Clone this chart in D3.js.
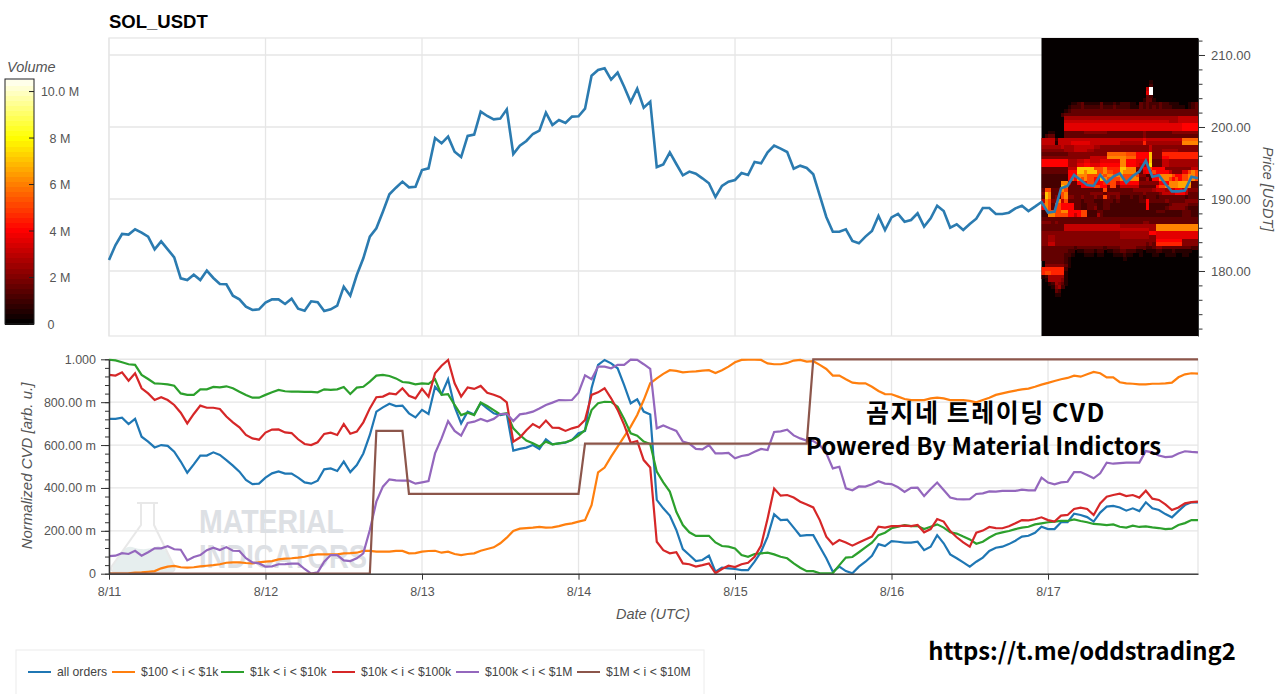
<!DOCTYPE html>
<html>
<head>
<meta charset="utf-8">
<script src="https://cdn.jsdelivr.net/npm/d3@7"></script>
<style>
  html, body { margin: 0; padding: 0; background: #fff; overflow: hidden; }
  text { font-family: "Liberation Sans", Arial, sans-serif; }
</style>
</head>
<body>
<div id="graph"></div>
<script>
// hourly values from 8/11 00:00 to 8/17 23:00, one line per day
const price = [
  181.53,183.61,185.14,185.05,185.79,185.32,184.77,183.01,184.12,183.01,181.90,178.98,178.75,179.49,178.75,180.05,179.03,178.19,178.15,176.57,176.06,175.05,174.58,174.68,
  175.60,176.06,176.06,175.42,176.16,174.77,174.49,175.79,175.65,174.44,174.68,175.19,177.82,176.57,179.44,181.76,184.77,185.93,188.24,190.65,191.57,192.41,191.62,191.71,
  194.03,194.26,198.47,197.73,198.66,196.57,195.83,198.75,198.94,202.13,201.53,201.06,201.16,202.45,196.25,197.41,198.06,199.03,199.49,201.99,200.28,200.97,200.56,201.44,
  201.48,202.55,207.13,207.92,208.15,206.57,207.55,205.60,203.47,205.32,202.69,203.52,194.44,194.81,196.48,194.86,193.29,193.80,193.52,192.87,192.18,190.28,191.81,192.41,
  192.64,193.61,193.33,195.14,194.95,196.48,197.41,196.99,196.53,194.21,194.63,194.31,193.43,190.46,187.50,185.46,185.46,185.79,184.17,183.84,184.77,185.56,187.64,185.69,
  187.45,187.92,186.85,187.08,188.01,186.16,187.31,189.07,188.33,186.02,186.48,185.69,186.53,187.27,188.75,188.75,187.92,187.92,188.10,188.70,189.07,188.33,188.94,189.58,
  188.10,188.24,191.48,191.81,193.33,192.64,191.94,191.81,193.33,192.27,193.10,193.56,192.27,193.19,193.80,195.32,193.10,193.29,192.08,191.06,191.06,191.16,193.10,192.87
];

// normalized CVD in milli units
const cvdAll = [
  722,722,728,698,722,639,616,589,600,596,569,523,471,510,551,551,566,554,530,504,476,437,418,420,
  448,468,477,467,467,448,426,420,434,487,491,479,523,474,507,561,647,756,776,793,782,784,748,729,
  764,745,872,837,907,779,701,756,743,795,771,748,740,745,574,582,588,600,582,627,603,608,611,624,
  655,666,865,974,997,981,958,880,795,813,756,743,344,305,271,204,115,87,59,64,84,9,28,25,
  22,17,17,56,103,173,277,250,252,215,177,180,180,126,72,9,33,12,2,33,56,84,138,129,
  152,149,145,145,149,110,126,180,142,90,72,53,33,56,75,106,121,126,138,154,173,177,191,219,
  208,208,240,240,280,274,264,243,285,313,316,309,294,305,292,333,305,297,278,263,292,320,333,333
];
const cvd100 = [
  0,0,0,2,5,6,9,12,25,33,36,30,28,30,34,37,40,44,51,53,53,50,48,53,
  56,59,67,70,72,75,79,87,90,90,90,90,95,96,98,106,106,103,103,103,106,106,95,96,
  103,106,107,98,103,92,87,92,95,107,115,123,142,168,199,210,213,215,218,215,216,222,230,235,
  243,250,320,473,495,546,593,639,686,740,810,888,911,932,949,946,939,942,944,947,949,936,949,966,
  986,997,998,998,997,981,977,977,983,994,997,989,991,974,955,924,924,907,891,888,888,872,852,838,
  837,826,815,810,810,810,818,821,818,810,810,810,806,799,810,821,834,841,848,854,860,863,872,882,
  890,899,907,913,924,919,930,941,935,916,916,893,888,886,883,883,886,886,888,891,916,930,935,933
];
const cvd1k = [
  998,995,986,977,974,927,908,888,886,883,877,841,834,834,860,860,871,869,874,865,849,834,821,821,
  834,846,857,851,849,849,848,848,846,860,857,860,871,838,868,872,896,924,927,922,911,894,891,883,
  888,885,907,834,837,787,740,751,740,798,782,763,743,748,678,647,621,608,593,616,603,608,613,624,
  644,670,763,795,802,801,779,722,655,644,616,605,476,426,383,289,227,193,176,176,177,146,129,126,
  118,87,79,92,95,98,90,79,72,48,28,12,12,2,2,3,40,75,78,100,123,145,180,191,
  212,219,227,222,222,208,219,230,215,193,187,173,160,140,149,169,185,193,199,208,215,219,230,235,
  240,243,246,246,253,246,240,232,230,227,230,219,215,224,218,221,216,213,208,210,227,236,250,250
];
const cvd10k = [
  927,924,939,900,935,865,841,810,823,810,787,751,701,745,784,774,774,768,733,706,683,647,631,625,
  658,672,673,659,656,627,605,600,613,652,658,647,698,653,663,706,771,823,826,841,837,865,830,818,
  862,826,935,970,997,888,826,869,862,876,844,835,823,799,616,635,669,698,681,714,681,680,666,678,
  686,717,834,846,865,818,764,694,611,619,530,495,149,110,95,100,48,44,33,40,48,2,22,37,
  31,44,51,79,131,258,397,364,367,355,336,323,309,250,173,137,157,146,131,146,160,173,219,215,
  222,222,224,222,227,193,208,255,243,199,170,146,126,191,201,218,213,212,221,235,250,249,254,263,
  250,243,271,274,302,308,302,274,328,359,367,373,362,367,355,387,350,344,323,297,309,328,334,336
];
const cvd100k = [
  82,84,96,92,107,84,100,118,118,128,114,112,62,78,87,110,121,110,124,107,106,72,53,48,
  33,34,44,45,47,47,22,0,6,56,87,87,62,59,72,95,204,336,406,440,435,434,434,420,
  426,432,561,631,712,666,644,703,709,722,711,722,745,746,712,743,748,756,771,787,798,810,809,810,
  844,925,907,966,966,958,974,974,998,997,977,955,678,691,678,666,616,607,582,580,600,561,561,563,
  538,549,554,569,582,577,661,664,672,645,631,621,619,600,561,491,499,398,389,407,406,417,431,420,
  418,403,381,400,401,362,395,425,390,355,348,347,348,372,375,384,383,386,386,386,392,389,389,448,
  425,417,426,429,474,474,460,445,468,518,513,516,518,518,518,572,566,551,544,546,561,571,568,566
];
const cvd1m = [
  0,0,0,0,0,0,0,0,0,0,0,0,0,0,0,0,0,0,0,0,0,0,0,0,
  0,0,0,0,0,0,0,0,0,0,0,0,0,0,0,0,0,666,666,666,666,666,372,372,
  372,372,372,372,372,372,372,372,372,372,372,372,372,372,372,372,372,372,372,372,372,372,372,372,
  372,607,607,607,607,607,607,607,607,607,607,607,607,607,607,607,607,607,607,607,607,607,607,607,
  607,607,607,607,607,607,607,607,607,607,607,607,1000,1000,1000,1000,1000,1000,1000,1000,1000,1000,1000,1000,
  1000,1000,1000,1000,1000,1000,1000,1000,1000,1000,1000,1000,1000,1000,1000,1000,1000,1000,1000,1000,1000,1000,1000,1000,
  1000,1000,1000,1000,1000,1000,1000,1000,1000,1000,1000,1000,1000,1000,1000,1000,1000,1000,1000,1000,1000,1000,1000,1000
];

const seriesNames = ["all orders", "$100 < i < $1k", "$1k < i < $10k", "$10k < i < $100k", "$100k < i < $1M", "$1M < i < $10M"];
const seriesColors = ["#1f77b4", "#ff7f0e", "#2ca02c", "#d62728", "#9467bd", "#8c564b"];
const seriesValues = [cvdAll, cvd100, cvd1k, cvd10k, cvd100k, cvd1m];

const dayLabels = ["8/11", "8/12", "8/13", "8/14", "8/15", "8/16", "8/17"];
const priceTicks = [180, 190, 200, 210];
const cvdTicks = [0, 200, 400, 600, 800, 1000];
const cvdTickLabels = ["0", "200.00 m", "400.00 m", "600.00 m", "800.00 m", "1.000"];
const volumeTicks = [0, 2, 4, 6, 8, 10];
const volumeTickLabels = ["0", "2 M", "4 M", "6 M", "8 M", "10.0 M"];

// volume heatmap: one string per 0.50 USD price bin from 206.50 down, one char per 30 min
// from hour 143 on. Each char is base 36, in steps of 0.5 M
const heatStartHour = 143;
const heatTopPrice = 206.5;
const heatRows = [
  "000000000000000000000000"+"000000000100000000000000",
  "000000000000000000000000"+"000000000200000000000000",
  "000000000000000000000000"+"000000006l00000000000000",
  "000000000000000000000000"+"000000007l00000000000000",
  "000000000000000000000000"+"000000003200000000000000",
  "000000000000000000000000"+"000000013310000000000000",
  "000000000112311111311121"+"222110323222322111000123",
  "000000001222322222322232"+"222111323232322211110123",
  "000000012333333333333333"+"333333333333333333333333",
  "000000233333333333333333"+"333333333333333333333333",
  "000000055555555555555555"+"555555555555555555666666",
  "000000066666666666666666"+"666666666666666555666666",
  "000000077777777777777777"+"777777777777777777788888",
  "000000077777777777777777"+"777777777777777777788888",
  "001100033333344444443333"+"333333343333333344444444",
  "023300033333333333333333"+"333333343333333333333333",
  "666626666666666666666666"+"6666666766666666666bbbbb",
  "666616666777777666666666"+"5555555955555555555ccccc",
  "555555655566666655444444"+"444444444644444444444444",
  "444444455566665544444444"+"444444444644455555444444",
  "33333333444444444444bbbb"+"bbaaa8888e44499999999999",
  "44444444444444466666cccc"+"ccbbb8888e44488999999999",
  "888888885556677666777777"+"cc8887777e33366555555555",
  "888888885557788777888888"+"cc8887667f33366555555555",
  "33333333666eeeeeaaac9999"+"eeccc4488a88884444444466",
  "33333333888eeceeeaacaa99"+"ecccc33788a8888644477aca",
  "22222222888cccaaaacaccac"+"caaaca442288cccca88aacca",
  "222222228a8cacaa88ecaaaa"+"caaccc335288ccca8a8aacca",
  "222222cc533888aa88899aa6"+"888888444444888cccdddd33",
  "222222ec33338888aa884aa3"+"666666333338aaccccdddc33",
  "3aa333ca33333333333a3333"+"333344444456665668866444",
  "4ec333ac3333333444434444"+"333333343333466668886333",
  "3ec343ac44334333433a4334"+"222322323332333333332333",
  "6ca44c6a3333233322233323"+"222222338333334333334444",
  "aca3aa888833223332233222"+"222222228222222344444333",
  "8ca3aa888833223342233222"+"222222228222223444443222",
  "22aaaacc8888aa2223322222"+"222222222223332222233322",
  "22ccaaaa8868aa2225322222"+"222222222222222222233322",
  "333333333333333333333333"+"333333333333333333333333",
  "444343333333333333333333"+"333333344333333333333333",
  "333333366666666666666666"+"55555555555ccccccccccccc",
  "333333366666666666666666"+"66666666655ccccccccccccc",
  "444444444444444444444444"+"555555555887777777777777",
  "445544444444444444444444"+"555555555447777777777777",
  "445544444444444444444444"+"444444444448888888844444",
  "446644444444444444444444"+"444444443439999999944444",
  "333333333323333333323333"+"444443332234433333333322",
  "333333332201122212201122"+"332221101112211121111100",
  "333333322100011101100011"+"121100100011001110011000",
  "333333321000000000000000"+"010000000000000000000000",
  "033333321",
  "044444431",
  "9999999200",
  "9aa9999100",
  "125555510",
  "015555410",
  "001254310",
  "000145200",
  "000032",
  "000011"
];

const svg = d3.select("#graph").append("svg")
  .attr("width", 1280)
  .attr("height", 694);

const hours = d3.range(price.length);
const dayHours = dayLabels.map((d, i) => i * 24);

const x = d3.scaleLinear().domain([0, 167]).range([109, 1198]);
const yPrice = d3.scaleLinear().domain([170.97, 212.36]).range([336, 38]);
const yCvd = d3.scaleLinear().domain([0, 1000]).range([573.7, 359.3]);
const yVolume = d3.scaleLinear().domain([0, 10.54]).range([324, 79]);
const hot = d3.scaleLinear().domain([0, 3.95, 7.9, 10.5]).range(["#050000", "#ff0000", "#ffff00", "#ffffff"]).clamp(true);

const gridColor = "#e6e6e6";
const textColor = "#555";

function grid(top, bottom, yScale, yValues) {
  const g = svg.append("g").attr("stroke", gridColor).attr("stroke-width", 1.3).attr("fill", "none");
  dayHours.forEach(h => {
    g.append("line").attr("x1", x(h)).attr("x2", x(h)).attr("y1", top).attr("y2", bottom);
  });
  yValues.forEach(v => {
    g.append("line").attr("x1", x(0)).attr("x2", x(167)).attr("y1", yScale(v)).attr("y2", yScale(v));
  });
  g.append("rect").attr("x", x(0)).attr("y", top).attr("width", x(167) - x(0)).attr("height", bottom - top);
}

// ---- top panel ----
grid(38, 336, yPrice, priceTicks);

svg.append("rect")
  .attr("x", x(heatStartHour))
  .attr("y", 38)
  .attr("width", x(167) - x(heatStartHour))
  .attr("height", 298)
  .attr("fill", "#050000");

const defs = svg.append("defs");
defs.append("filter").attr("id", "soft")
  .append("feGaussianBlur").attr("stdDeviation", 0.7);
defs.append("clipPath").attr("id", "heatClip")
  .append("rect")
  .attr("x", x(heatStartHour))
  .attr("y", 38)
  .attr("width", x(167) - x(heatStartHour))
  .attr("height", 298);

const heatCells = [];
heatRows.forEach((row, r) => {
  row.split("").forEach((ch, c) => {
    const volume = parseInt(ch, 36) / 2;
    if (volume > 0) heatCells.push({ r: r, c: c, volume: volume });
  });
});

svg.append("g").attr("clip-path", "url(#heatClip)")
  .append("g").attr("filter", "url(#soft)")
  .selectAll("rect")
  .data(heatCells)
  .join("rect")
  .attr("x", d => x(heatStartHour + d.c / 2))
  .attr("y", d => yPrice(heatTopPrice - d.r * 0.5))
  .attr("width", x(0.5) - x(0) + 0.4)
  .attr("height", yPrice(0) - yPrice(0.5) + 0.4)
  .attr("shape-rendering", "crispEdges")
  .attr("fill", d => hot(d.volume));

const priceLine = d3.line().x(d => x(d)).y(d => yPrice(price[d]));
svg.append("path")
  .datum(hours)
  .attr("fill", "none")
  .attr("stroke", "#2b7bb0")
  .attr("stroke-width", 2.6)
  .attr("d", priceLine);

const priceAxisMinor = d3.axisRight(yPrice).tickValues(d3.range(172, 213, 2)).tickSize(4.5).tickSizeOuter(0).tickFormat("");
const priceAxis = d3.axisRight(yPrice).tickValues(priceTicks).tickSize(7).tickSizeOuter(0).tickPadding(6).tickFormat(d3.format(".2f"));
svg.append("g").attr("transform", `translate(${x(167)},0)`).call(priceAxisMinor)
  .call(g => g.select(".domain").attr("stroke", "#333"))
  .call(g => g.selectAll("line").attr("stroke", "#333"));
svg.append("g").attr("transform", `translate(${x(167)},0)`).call(priceAxis)
  .call(g => g.select(".domain").remove())
  .call(g => g.selectAll("line").attr("stroke", "#333"))
  .call(g => g.selectAll("text").attr("fill", textColor).style("font-size", "13px"));

svg.append("text")
  .attr("transform", "translate(1263,189) rotate(90)")
  .attr("text-anchor", "middle")
  .attr("font-style", "italic")
  .attr("fill", textColor)
  .style("font-size", "14.5px")
  .text("Price [USDT]");

svg.append("text")
  .attr("x", 109)
  .attr("y", 28)
  .attr("font-weight", "bold")
  .attr("fill", "#000")
  .style("font-size", "18.5px")
  .text("SOL_USDT");

// ---- colorbar ----
const barSteps = d3.range(0, 10.5, 10.5 / 48);
svg.append("g").attr("shape-rendering", "crispEdges")
  .selectAll("rect")
  .data(barSteps)
  .join("rect")
  .attr("x", 5)
  .attr("width", 29)
  .attr("y", d => yVolume(d + 10.54 / 48))
  .attr("height", yVolume(0) - yVolume(10.54 / 48) + 0.5)
  .attr("fill", d => hot(d));

svg.append("rect")
  .attr("x", 5).attr("y", 79).attr("width", 29).attr("height", 245)
  .attr("fill", "none").attr("stroke", "#222").attr("stroke-width", 1);

svg.append("g")
  .selectAll("line")
  .data(volumeTicks)
  .join("line")
  .attr("x1", 29).attr("x2", 34)
  .attr("y1", d => yVolume(d)).attr("y2", d => yVolume(d))
  .attr("stroke", "#222");

svg.append("g")
  .selectAll("text")
  .data(volumeTicks)
  .join("text")
  .attr("x", (d, i) => i === 0 ? 51 : 60)
  .attr("y", d => yVolume(d) + 4.5)
  .attr("text-anchor", "middle")
  .attr("fill", textColor)
  .style("font-size", "12.5px")
  .text((d, i) => volumeTickLabels[i]);

svg.append("text")
  .attr("x", 7)
  .attr("y", 72)
  .attr("font-style", "italic")
  .attr("fill", textColor)
  .style("font-size", "14.5px")
  .text("Volume");

// ---- bottom panel ----
grid(359.3, 573.7, yCvd, cvdTicks);

// watermark sits under the lines
const mark = svg.append("g");
mark.append("path")
  .attr("d", "M113 566 Q122 545 132 547 Q145 552 158 546 Q168 548 174 566 Q175 571 170 572 L116 572 Q111 571 113 566 Z")
  .attr("fill", "#e6eeee");
mark.append("path")
  .attr("d", "M137 503 H158 M141 503 V525 L112 566 Q110 572 116 572 H170 Q176 572 174 566 L154 525 V503")
  .attr("fill", "none")
  .attr("stroke", "#e8e8e8")
  .attr("stroke-width", 2);
const markLines = ["MATERIAL", "INDICATORS"];
const markWidths = [145, 168];
const markBaselines = [533, 568];
mark.selectAll("text")
  .data(markLines)
  .join("text")
  .attr("x", 199)
  .attr("y", (d, i) => markBaselines[i])
  .attr("textLength", (d, i) => markWidths[i])
  .attr("lengthAdjust", "spacingAndGlyphs")
  .attr("font-weight", "bold")
  .attr("fill", "#dde0e4")
  .style("font-size", "33px")
  .text(d => d);

seriesValues.forEach((values, i) => {
  svg.append("path")
    .datum(hours)
    .attr("fill", "none")
    .attr("stroke", seriesColors[i])
    .attr("stroke-width", 2.2)
    .attr("d", d3.line().x(d => x(d)).y(d => yCvd(values[d])));
});

const cvdAxisMinor = d3.axisLeft(yCvd).tickValues(d3.range(0, 1001, 40)).tickSize(4).tickSizeOuter(0).tickFormat("");
const cvdAxis = d3.axisLeft(yCvd).tickValues(cvdTicks).tickSize(8).tickSizeOuter(0).tickPadding(5).tickFormat((d, i) => cvdTickLabels[i]);
svg.append("g").attr("transform", `translate(${x(0)},0)`).call(cvdAxisMinor)
  .call(g => g.select(".domain").attr("stroke", "#333").attr("stroke-width", 1.5))
  .call(g => g.selectAll("line").attr("stroke", "#333"));
svg.append("g").attr("transform", `translate(${x(0)},0)`).call(cvdAxis)
  .call(g => g.select(".domain").remove())
  .call(g => g.selectAll("line").attr("stroke", "#333"))
  .call(g => g.selectAll("text").attr("fill", textColor).style("font-size", "12.5px"));

const dayAxis = d3.axisBottom(x).tickValues(dayHours).tickSize(6).tickSizeOuter(0).tickPadding(7).tickFormat((d, i) => dayLabels[i]);
svg.append("g").attr("transform", `translate(0,${yCvd(0)})`).call(dayAxis)
  .call(g => g.select(".domain").attr("stroke", "#444").attr("stroke-width", 1.5))
  .call(g => g.selectAll("line").attr("stroke", "#333"))
  .call(g => g.selectAll("text").attr("fill", textColor).style("font-size", "12.5px"));

svg.append("text")
  .attr("transform", "translate(32,466) rotate(-90)")
  .attr("text-anchor", "middle")
  .attr("font-style", "italic")
  .attr("fill", textColor)
  .style("font-size", "15px")
  .text("Normalized CVD [arb. u.]");

svg.append("text")
  .attr("x", 653)
  .attr("y", 619)
  .attr("text-anchor", "middle")
  .attr("font-style", "italic")
  .attr("fill", textColor)
  .style("font-size", "14.5px")
  .text("Date (UTC)");

// ---- legend ----
const legendLineX = [28, 112, 221, 332, 456, 577];
svg.append("rect")
  .attr("x", 16).attr("y", 650).attr("width", 688).attr("height", 60)
  .attr("fill", "#fff").attr("stroke", "#ececec");

const legend = svg.append("g")
  .selectAll("g")
  .data(seriesNames)
  .join("g")
  .attr("transform", (d, i) => `translate(${legendLineX[i]},672)`);
legend.append("line")
  .attr("x1", 0).attr("x2", 23)
  .attr("stroke", (d, i) => seriesColors[i])
  .attr("stroke-width", 2);
legend.append("text")
  .attr("x", 29)
  .attr("y", 4)
  .attr("fill", "#444")
  .style("font-size", "12.2px")
  .text(d => d);

// ---- text pasted over the chart ----
const noteFont = "'Noto Sans CJK KR', 'Noto Sans', sans-serif";
svg.append("text")
  .attr("x", 986).attr("y", 422)
  .attr("text-anchor", "middle")
  .attr("font-weight", "bold")
  .attr("fill", "#000")
  .style("font-family", noteFont)
  .style("font-size", "25px")
  .style("letter-spacing", "1.5px")
  .text("곰지네 트레이딩 CVD");
svg.append("text")
  .attr("x", 983.5).attr("y", 455)
  .attr("text-anchor", "middle")
  .attr("font-weight", "bold")
  .attr("fill", "#000")
  .style("font-family", noteFont)
  .style("font-size", "24px")
  .style("letter-spacing", "0.1px")
  .text("Powered By Material Indictors");
svg.append("text")
  .attr("x", 1082).attr("y", 660)
  .attr("text-anchor", "middle")
  .attr("font-weight", "bold")
  .attr("fill", "#000")
  .style("font-family", noteFont)
  .style("font-size", "23.8px")
  .text("https://t.me/oddstrading2");
</script>
</body>
</html>
